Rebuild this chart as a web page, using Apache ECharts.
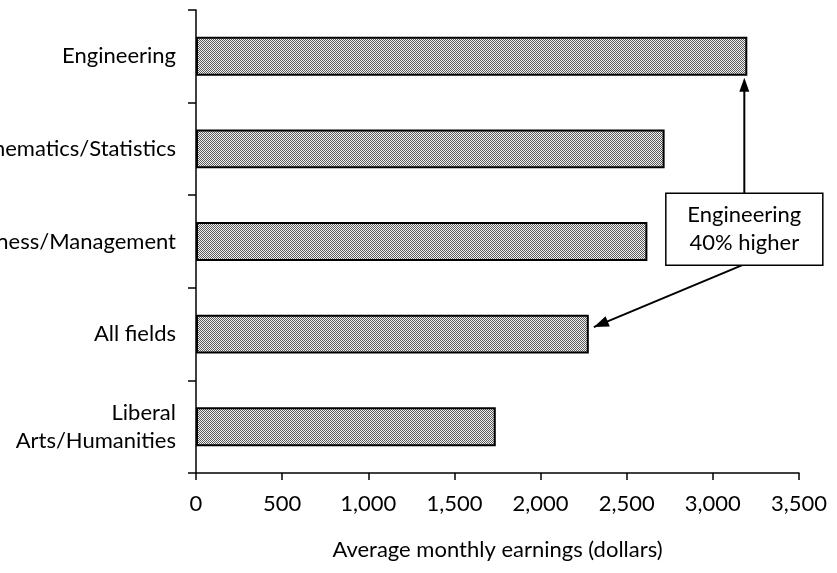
<!DOCTYPE html>
<html>
<head>
<meta charset="utf-8">
<script src="https://cdn.jsdelivr.net/npm/echarts@6/dist/echarts.min.js"></script>
<style>
  html, body { margin: 0; padding: 0; background: #fff; }
  #chart { width: 837px; height: 573px; }
</style>
</head>
<body>
<div id="chart"></div>
<script>
// Fields of study, top to bottom
const categories = [
  'Engineering',
  'Mathematics/Statistics',
  'Business/Management',
  'All fields',
  'Liberal\nArts/Humanities'
];
// Average monthly earnings, dollars
const earnings = [3200, 2720, 2620, 2280, 1740];
// Value-axis ticks
const xTicks = [0, 500, 1000, 1500, 2000, 2500, 3000, 3500];
const xTitle = 'Average monthly earnings (dollars)';
const noteLines = ['Engineering', '40% higher'];

const FONT = 'Lato, "Open Sans", sans-serif';

// Dithered grey fill for the bars
function ditherPattern() {
  const c = document.createElement('canvas');
  c.width = 4; c.height = 4;
  const g = c.getContext('2d');
  for (let y = 0; y < 4; y++) {
    for (let x = 0; x < 4; x++) {
      g.fillStyle = ((x + y) % 2 === 0) ? '#5a5a5a' : '#f2f2f2';
      g.fillRect(x, y, 1, 1);
    }
  }
  return c;
}

const chart = echarts.init(document.getElementById('chart'), null, { renderer: 'canvas' });

chart.setOption({
  animation: false,
  backgroundColor: '#fff',
  textStyle: { fontFamily: FONT, color: '#000' },
  grid: {
    left: 196, right: 38, top: 10, bottom: 100,
    containLabel: false,
    outerBoundsMode: 'none'
  },
  xAxis: {
    type: 'value',
    min: xTicks[0],
    max: xTicks[xTicks.length - 1],
    interval: xTicks[1] - xTicks[0],
    name: xTitle,
    nameLocation: 'middle',
    nameGap: 66,
    nameTextStyle: { fontFamily: FONT, fontSize: 22, color: '#000' },
    axisLine: { show: true, lineStyle: { color: '#000', width: 1.5 } },
    axisTick: { show: true, length: 7, lineStyle: { color: '#000', width: 1.5 } },
    axisLabel: {
      fontFamily: FONT, fontSize: 22, color: '#000', margin: 20,
      formatter: v => v.toLocaleString('en-US')
    },
    splitLine: { show: false }
  },
  yAxis: {
    type: 'category',
    data: categories,
    inverse: true,
    axisLine: { show: true, lineStyle: { color: '#000', width: 1.5 } },
    axisTick: { show: true, length: 8, alignWithLabel: false, lineStyle: { color: '#000', width: 1.5 } },
    axisLabel: {
      fontFamily: FONT, fontSize: 22, color: '#000', margin: 20,
      lineHeight: 28, align: 'right'
    },
    splitLine: { show: false }
  },
  series: [{
    type: 'bar',
    data: earnings,
    barWidth: '42%',
    itemStyle: {
      color: { image: ditherPattern(), repeat: 'repeat' },
      borderColor: '#000',
      borderWidth: 2
    }
  }]
});

// Annotation: callout box with arrows to the Engineering and All fields bars
function arrowHead(tip, from, len, half) {
  const dx = tip[0] - from[0], dy = tip[1] - from[1];
  const d = Math.hypot(dx, dy);
  const ux = dx / d, uy = dy / d;
  const bx = tip[0] - ux * len, by = tip[1] - uy * len;
  return [tip, [bx - uy * half, by + ux * half], [bx + uy * half, by - ux * half]];
}

function drawNote() {
  const eng = 0, all = 3;
  const engEnd = chart.convertToPixel({ gridIndex: 0 }, [earnings[eng], eng]);
  const allEnd = chart.convertToPixel({ gridIndex: 0 }, [earnings[all], all]);
  const band = chart.convertToPixel({ gridIndex: 0 }, [0, 1])[1] - engEnd[1];
  const barHalf = band * 0.42 / 2;

  const boxW = 157, boxH = 72;
  const cx = engEnd[0] - 3;
  const boxTop = engEnd[1] + band * 1.5 - 2;
  const boxLeft = cx - boxW / 2;

  const upTip = [cx, engEnd[1] + barHalf + 2];
  const upFrom = [cx, boxTop];
  const diagFrom = [cx - 2, boxTop + boxH];
  const diagTip = [allEnd[0] + 5, allEnd[1] - 7];

  chart.setOption({
    graphic: [
      { type: 'line', shape: { x1: upFrom[0], y1: upFrom[1], x2: upTip[0], y2: upTip[1] + 12 },
        style: { stroke: '#000', lineWidth: 2 }, z: 10 },
      { type: 'polygon', shape: { points: arrowHead(upTip, upFrom, 14, 5) },
        style: { fill: '#000' }, z: 10 },
      { type: 'line', shape: { x1: diagFrom[0], y1: diagFrom[1], x2: diagTip[0], y2: diagTip[1] },
        style: { stroke: '#000', lineWidth: 2 }, z: 10 },
      { type: 'polygon', shape: { points: arrowHead(diagTip, diagFrom, 15, 5.5) },
        style: { fill: '#000' }, z: 10 },
      { type: 'rect', shape: { x: boxLeft, y: boxTop, width: boxW, height: boxH },
        style: { fill: '#fff', stroke: '#000', lineWidth: 1.5 }, z: 11 },
      { type: 'text', x: cx, y: boxTop + boxH / 2, z: 12,
        style: {
          text: noteLines.join('\n'), font: '22px ' + FONT, fill: '#000',
          align: 'center', verticalAlign: 'middle', lineHeight: 28
        } }
    ]
  });
}
drawNote();
</script>
</body>
</html>
